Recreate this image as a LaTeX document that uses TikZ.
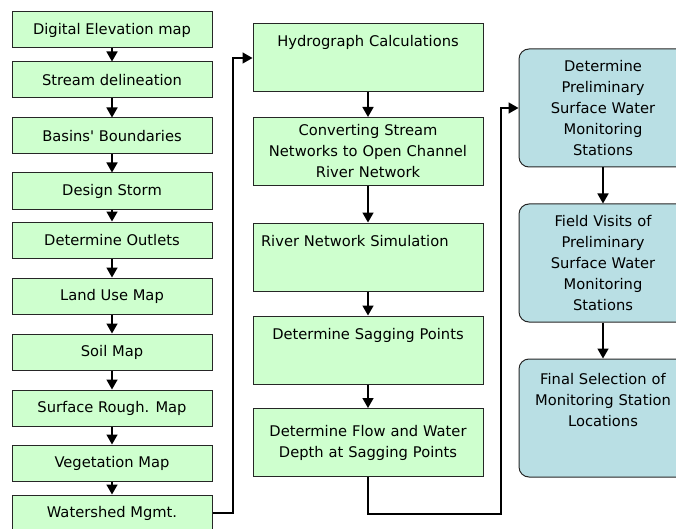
\documentclass[tikz,border=0pt]{standalone}
\usepackage{fontspec}
\setmainfont{DejaVu Sans}
\usepackage{xcolor}
\usetikzlibrary{arrows.meta}
\usetikzlibrary{positioning}
\usetikzlibrary{calc}
\definecolor{boxgreen}{RGB}{206,255,206}
\definecolor{boxblue}{RGB}{185,223,228}

\begin{document}
\begin{tikzpicture}[x=1pt,y=-1pt,
	font=\fontsize{14.7}{21}\selectfont,
	leftbox/.style={draw=black!85, line width=1pt, fill=boxgreen, minimum width=200pt, minimum height=36pt, inner sep=0pt},
	midbox/.style={draw=black!85, line width=1pt, fill=boxgreen, text width=214pt, inner xsep=8pt, inner ysep=4pt, minimum height=68pt, align=center},
	toptext/.style={text height=19pt, text depth=41pt},
	rightbox/.style={draw=black!85, line width=1pt, fill=boxblue, rounded corners=10pt, text width=160pt, inner xsep=4pt, inner ysep=4pt, minimum height=118pt, align=center},
	conn/.style={line width=1.6pt, -{Triangle[width=11pt,length=10pt]}}]
	\useasboundingbox (0,0) rectangle (676,529);
	% GIS steps
	\node[leftbox] (dem) at (112,30) {Digital Elevation map};
	\node[leftbox] (stream) at (112,80) {Stream delineation};
	\node[leftbox] (basins) at (112,136) {Basins\textquotesingle{} Boundaries};
	\node[leftbox] (storm) at (112,191) {Design Storm};
	\node[leftbox] (outlets) at (112,240) {Determine Outlets};
	\node[leftbox] (landuse) at (112,296) {Land Use Map};
	\node[leftbox] (soil) at (112,352) {Soil Map};
	\node[leftbox] (rough) at (112,408) {Surface Rough. Map};
	\node[leftbox] (veg) at (112,463) {Vegetation Map};
	\node[leftbox] (ws) at (112,513) {Watershed Mgmt.};
	\foreach \a/\b in {dem/stream, stream/basins, basins/storm, storm/outlets, outlets/landuse, landuse/soil, soil/rough, rough/veg, veg/ws}
		\draw[conn] (\a) -- (\b);
	% hydraulic steps
	\node[midbox, toptext] (hydro) at (368,58) {Hydrograph Calculations};
	\node[midbox] (convert) at (368,151.5) {Converting Stream\\Networks to Open Channel\\River Network};
	\node[midbox, toptext, align=left] (rivsim) at (368,257) {River Network Simulation};
	\node[midbox, toptext] (sagging) at (368,350) {Determine Sagging Points};
	\node[midbox] (flow) at (368,442.5) {Determine Flow and Water\\Depth at Sagging Points};
	\foreach \a/\b in {hydro/convert, convert/rivsim, rivsim/sagging, sagging/flow}
		\draw[conn] (\a) -- (\b);
	% monitoring stations
	\node[rightbox] (prelim) at (603,108) {Determine\\Preliminary\\Surface Water\\Monitoring\\Stations};
	\node[rightbox] (field) at (603,263) {Field Visits of\\Preliminary\\Surface Water\\Monitoring\\Stations};
	\node[rightbox, text height=21pt, text depth=89pt] (final) at (603,418) {Final Selection of\\Monitoring Station\\Locations};
	\draw[conn] (prelim) -- (field);
	\draw[conn] (field) -- (final);
	% links between columns
	\coordinate (wsturn) at (233,513);
	\draw[conn] (ws.east) -- (wsturn) |- (hydro.west);
	\coordinate (flowdown) at (368,514);
	\coordinate (flowturn) at (501,514);
	\draw[conn] (flow.south) -- (flowdown) -- (flowturn) |- (prelim.west);
\end{tikzpicture}
\end{document}
